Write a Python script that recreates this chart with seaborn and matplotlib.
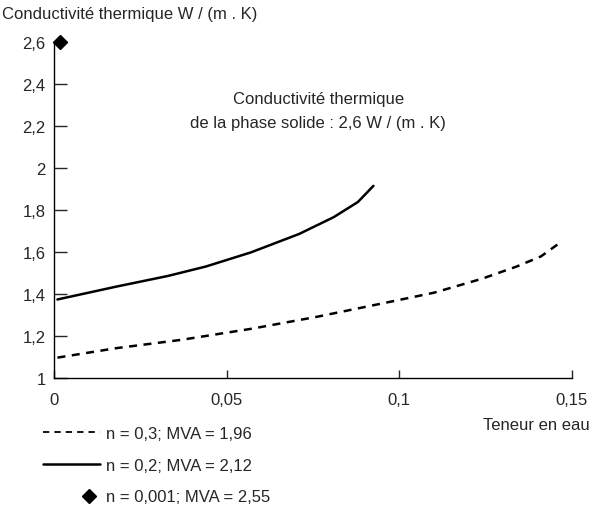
import numpy as np
import pandas as pd
import matplotlib.pyplot as plt
import seaborn as sns
from matplotlib.lines import Line2D
from matplotlib.legend_handler import HandlerLine2D
from matplotlib.ticker import FuncFormatter

# Values
x_n03 = [0.001, 0.018, 0.037, 0.057, 0.076, 0.095, 0.11, 0.124, 0.134, 0.141, 0.146]
y_n03 = [1.097, 1.142, 1.182, 1.234, 1.291, 1.355, 1.406, 1.473, 1.531, 1.579, 1.638]

x_n02 = [0.001, 0.018, 0.033, 0.044, 0.057, 0.071, 0.081, 0.088, 0.0925]
y_n02 = [1.374, 1.435, 1.486, 1.531, 1.598, 1.686, 1.766, 1.838, 1.915]

x_n0001 = [0.0017]
y_n0001 = [2.6]

labels = ["n = 0,3; MVA = 1,96", "n = 0,2; MVA = 2,12", "n = 0,001; MVA = 2,55"]
x_ticks = [0, 0.05, 0.1, 0.15]
y_ticks = [1, 1.2, 1.4, 1.6, 1.8, 2, 2.2, 2.4, 2.6]

sns.set_style("ticks")
plt.rcParams['font.family'] = ['Liberation Sans', 'DejaVu Sans']
plt.rcParams['font.size'] = 12


class RightMarker(HandlerLine2D):
    # single marker sits at the middle of xdata, so shift xdata to the right
    def get_xdata(self, legend, xdescent, ydescent, width, height, fontsize):
        xd = [width * 0.64 - xdescent, width - xdescent]
        return xd, [width * 0.82 - xdescent]


fig = plt.figure(figsize=(6.07, 5.1), dpi=100)
ax = fig.add_axes([54 / 607, 1 - 379 / 510, (572 - 54) / 607, (379 - 43) / 510])

sns.lineplot(x=x_n03, y=y_n03, ax=ax, color='black', linewidth=1.8)
ax.lines[-1].set_dashes((3.2, 2.6))
sns.lineplot(x=x_n02, y=y_n02, ax=ax, color='black', linewidth=1.8)
ax.plot(x_n0001, y_n0001, marker='D', color='black', markersize=7, linestyle='none', clip_on=False)

ax.set_xlim(0, 0.15)
ax.set_ylim(1, 2.6)
ax.set_xticks(x_ticks)
ax.set_yticks(y_ticks)
fmt = FuncFormatter(lambda v, p: ('%g' % v).replace('.', ','))
ax.xaxis.set_major_formatter(fmt)
ax.yaxis.set_major_formatter(fmt)
ax.tick_params(axis='y', direction='in', length=9, width=1, pad=6, labelsize=12)
ax.tick_params(axis='x', direction='in', length=6, width=1, pad=10, labelsize=12)
sns.despine(ax=ax)
for s in ['left', 'bottom']:
    ax.spines[s].set_linewidth(1)
    ax.spines[s].set_color('black')

ax.text(0.0765, 2.275, "Conductivité thermique\nde la phase solide : 2,6 W / (m . K)",
        ha='center', va='center', fontsize=12, linespacing=1.75)
fig.text(2 / 607, 1 - 14 / 510, "Conductivité thermique W / (m . K)", ha='left', va='center', fontsize=12)
fig.text(590 / 607, 1 - 425 / 510, "Teneur en eau", ha='right', va='center', fontsize=12)

handles = [
    Line2D([], [], color='black', linewidth=1.3, dashes=(3.5, 2.8)),
    Line2D([], [], color='black', linewidth=1.8),
    Line2D([], [], color='black', marker='D', markersize=7, linestyle='none'),
]
fig.legend(handles, labels, loc='upper left', bbox_to_anchor=(43 / 607, 1 - 427 / 510),
           frameon=False, fontsize=12, handlelength=3.4, handletextpad=0.4,
           labelspacing=1.0, borderpad=0, borderaxespad=0,
           handler_map={handles[2]: RightMarker()})

fig.savefig("out.png", dpi=100)
